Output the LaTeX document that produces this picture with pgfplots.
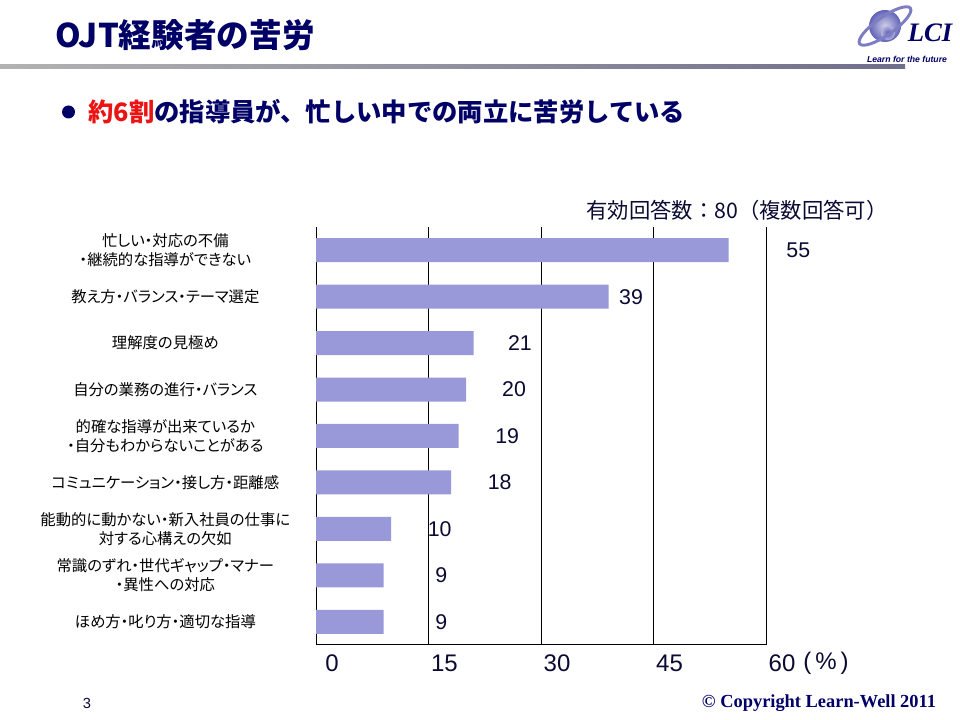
\documentclass[border=0pt]{standalone}
\usepackage{fontspec}
\setmainfont{Liberation Sans}
\newfontfamily\jp{Noto Sans CJK JP}
\newfontfamily\jpp[RawFeature=+palt]{Noto Sans CJK JP}
\newfontfamily\serifb{Liberation Serif}
\usepackage{pgfplots}
\pgfplotsset{compat=1.18}
\definecolor{navy}{RGB}{0,0,102}
\definecolor{txt}{RGB}{10,10,50}
\definecolor{barcol}{RGB}{153,153,217}
\definecolor{redc}{RGB}{235,20,20}
\definecolor{logob}{RGB}{70,70,170}
\begin{document}
\begin{tikzpicture}
\path[use as bounding box, fill=white] (0pt,0pt) rectangle (720pt,540pt);
\begin{scope}[shift={(0pt,540pt)}, x=0.75pt, y=-0.75pt]
% title
\node[anchor=west, inner sep=0, text=navy, font=\jp\bfseries\fontsize{24.5}{24.5}\selectfont] at (55,35) {OJT経験者の苦労};
\shade[left color=black!30, right color={rgb,255:red,110;green,110;blue,140}] (0,65) rectangle (905,69);
% logo
\shade[inner color=logob!25, outer color=logob!85] (885,26) circle (16);
\shade[inner color=logob!90, outer color=logob!40] (888,33) circle (7);
\draw[logob!70, line width=2.2pt, rotate around={35:(885,26)}] (885,26) ellipse (31 and 9);
\node[anchor=center, inner sep=0, text=navy, font=\serifb\bfseries\itshape\fontsize{20}{20}\selectfont] at (930,33) {LCI};
\node[anchor=center, inner sep=0, text=navy, font=\bfseries\itshape\fontsize{6.5}{6.5}\selectfont] at (907,59) {Learn for the future};
% bullet
\fill[navy] (68.5,112) circle (6.5);
\node[anchor=west, inner sep=0, font=\jp\bfseries\fontsize{19}{19}\selectfont] at (88,112) {\textcolor{redc}{約6割}\textcolor{navy}{の指導員が、忙しい中での両立に苦労している}};
% note
\node[anchor=center, inner sep=0, text=txt, font=\jp\fontsize{16}{16}\selectfont] at (737,210) {有効回答数：80（複数回答可）};
% footer
\node[anchor=center, inner sep=0, text=txt, font=\fontsize{11}{11}\selectfont] at (87,703) {3};
\node[anchor=center, inner sep=0, text=navy, font=\serifb\bfseries\fontsize{13.8}{13.8}\selectfont] at (819,703) {© Copyright Learn-Well 2011};
\node[anchor=center, inner sep=0, text=txt, font=\fontsize{18}{18}\selectfont] at (826,663) {(\,\%\,)};
\end{scope}
\begin{axis}[
  at={(237pt,56.25pt)}, anchor=south west,
  scale only axis, width=337.5pt, height=313.5pt,
  xmin=0, xmax=60, ymin=-0.5, ymax=8.5,
  axis x line*=bottom, axis y line*=left,
  axis line style={black, line width=0.75pt},
  xtick={0,15,30,45,60},
  xmajorgrids, major grid style={black, line width=0.75pt},
  tick style={draw=none},
  /pgf/number format/assume math mode=true,
  xticklabel style={anchor=center, xshift=12pt, yshift=-13.5pt, text=txt, font=\fontsize{18}{18}\selectfont},
  ytick={0,...,8},
  yticklabels={
    {ほめ方・叱り方・適切な指導},
    {常識のずれ・世代ギャップ・マナー\\・異性への対応},
    {能動的に動かない・新入社員の仕事に\\対する心構えの欠如},
    {コミュニケーション・接し方・距離感},
    {的確な指導が出来ているか\\・自分もわからないことがある},
    {自分の業務の進行・バランス},
    {理解度の見極め},
    {教え方・バランス・テーマ選定},
    {忙しい・対応の不備\\・継続的な指導ができない}},
  yticklabel style={anchor=center, xshift=-113pt, align=center, text=black, font=\jpp\fontsize{11.5}{14}\selectfont},
  clip=false,
]
\addplot[xbar, bar width=18pt, fill=barcol, draw=none] coordinates {
  (9,0) (9,1) (10,2) (18,3) (19,4) (20,5) (21,6) (39,7) (55,8)};
\addplot[draw=none, mark=none, forget plot, nodes near coords, point meta=explicit symbolic,
  nodes near coords style={anchor=center, text=txt, font=\fontsize{16}{16}\selectfont}] coordinates {
  (16.7,0) [9] (16.7,1) [9] (16.5,2) [10] (24.5,3) [18] (25.5,4) [19] (26.4,5) [20] (27.2,6) [21] (42.0,7) [39] (64.3,8) [55]};
\end{axis}
\end{tikzpicture}
\end{document}
